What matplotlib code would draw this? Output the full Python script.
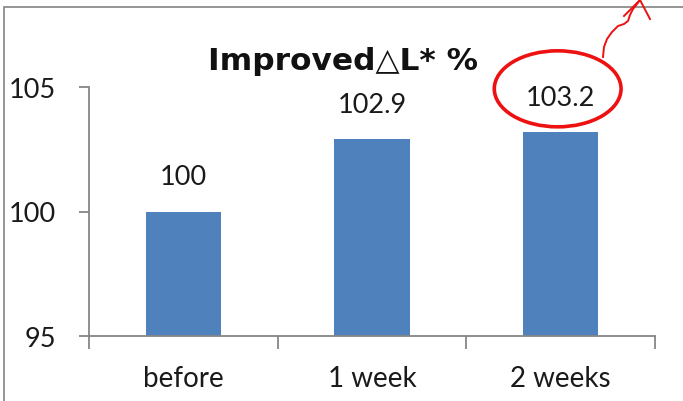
import matplotlib
matplotlib.use("Agg")
import matplotlib.pyplot as plt
from matplotlib.patches import Ellipse, Rectangle
import numpy as np

####################
categories = ["before", "1 week", "2 weeks"]
values = [100, 102.9, 103.2]
value_labels = ["100", "102.9", "103.2"]
yticks = [95, 100, 105]
title = "Improved\u25b3L* %"
####################

plt.rcParams['font.family'] = ['Lato', 'DejaVu Sans']

fig = plt.figure(figsize=(6.83, 4.02), dpi=100)
W, H = 683.0, 402.0

# outer chart frame (only top and left visible in the crop)
fig.patches.append(Rectangle((4 / W, -0.1), 1.2, 1 - 8 / H + 0.1,
                             transform=fig.transFigure, fill=False,
                             edgecolor="#8c8c8c", linewidth=1.3))

ax = fig.add_axes([89 / W, 1 - 337 / H, (655 - 89) / W, (337 - 88) / H])
x = np.arange(len(categories))
ax.bar(x, values, width=0.4, color="#4F81BD", bottom=0)
ax.set_xlim(-0.5, len(categories) - 0.5)
ax.set_ylim(95, 105)

for s in ["top", "right"]:
    ax.spines[s].set_visible(False)
for s in ["left", "bottom"]:
    ax.spines[s].set_color("#868686")
    ax.spines[s].set_linewidth(1.3)

fs = 19.5
ax.set_yticks(yticks)
ax.set_yticklabels([str(t) for t in yticks], fontsize=fs, color="#1a1a1a")
ax.tick_params(axis="y", length=7, width=1.3, color="#868686", pad=17)

# x ticks at category boundaries, labels centered
ax.set_xticks(np.arange(len(categories) + 1) - 0.5)
ax.set_xticklabels([])
ax.set_xticks(x, minor=True)
ax.set_xticklabels(categories, minor=True, fontsize=20, color="#1a1a1a")
ax.tick_params(axis="x", which="major", length=9, width=1.3, color="#868686")
ax.tick_params(axis="x", which="minor", length=0, pad=21)

for xi, v, t in zip(x, values, value_labels):
    ax.annotate(t, (xi, v), xytext=(0, 25), textcoords="offset points",
                ha="center", va="center", fontsize=fs, color="#1a1a1a",
                annotation_clip=False)

fig.text(343 / W, 1 - 62 / H, title, ha="center", va="center",
         fontsize=22.5, fontweight="bold", color="#111111",
         family=["DejaVu Sans"])

# red ellipse around last label
px_x = 189.0  # px per category
px_y = 24.9   # px per unit
ell = Ellipse((x[-1] - 3 / px_x, values[-1] + 43 / px_y), 127 / px_x, 76 / px_y,
              fill=False, edgecolor="#ee1111", linewidth=2.6, clip_on=False)
ax.add_patch(ell)

# hand drawn squiggle arrow (figure pixels)
sx = np.array([603, 604, 607, 612, 618, 624, 628, 630, 633, 637, 640])
sy = np.array([58, 48, 40, 33, 27, 25, 22, 16, 10, 5, 1])
fig.add_artist(plt.Line2D(sx / W, 1 - sy / H, color="#ee1111", lw=1.4,
                          transform=fig.transFigure))
fig.add_artist(plt.Line2D(np.array([624, 640, 650]) / W, 1 - np.array([17, 1, 20]) / H,
                          color="#ee1111", lw=1.4, transform=fig.transFigure))

fig.savefig("out.png", dpi=100)
